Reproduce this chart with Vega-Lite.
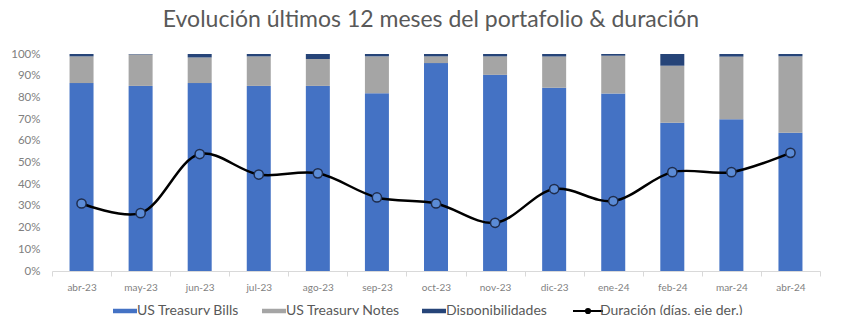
{
  "$schema": "https://vega.github.io/schema/vega-lite/v6.json",
  "width": 768,
  "height": 217,
  "padding": {"left": 10, "top": 9, "right": 0, "bottom": 0},
  "background": "white",
  "config": {"font": "Lato", "view": {"stroke": null}},
  "title": {
    "text": "Evolución últimos 12 meses del portafolio & duración",
    "fontSize": 23,
    "font": "Lato",
    "fontWeight": "normal",
    "color": "#595959",
    "anchor": "middle",
    "dx": -5,
    "offset": 16
  },
  "datasets": {
    "cartera": [
      {"mes": "abr-23", "serie": "US Treasury Bills", "pct": 86.6},
      {"mes": "abr-23", "serie": "US Treasury Notes", "pct": 12.3},
      {"mes": "abr-23", "serie": "Disponibilidades", "pct": 1.1},
      {"mes": "may-23", "serie": "US Treasury Bills", "pct": 85.3},
      {"mes": "may-23", "serie": "US Treasury Notes", "pct": 14.5},
      {"mes": "may-23", "serie": "Disponibilidades", "pct": 0.2},
      {"mes": "jun-23", "serie": "US Treasury Bills", "pct": 86.6},
      {"mes": "jun-23", "serie": "US Treasury Notes", "pct": 11.8},
      {"mes": "jun-23", "serie": "Disponibilidades", "pct": 1.6},
      {"mes": "jul-23", "serie": "US Treasury Bills", "pct": 85.3},
      {"mes": "jul-23", "serie": "US Treasury Notes", "pct": 13.6},
      {"mes": "jul-23", "serie": "Disponibilidades", "pct": 1.1},
      {"mes": "ago-23", "serie": "US Treasury Bills", "pct": 85.3},
      {"mes": "ago-23", "serie": "US Treasury Notes", "pct": 12.4},
      {"mes": "ago-23", "serie": "Disponibilidades", "pct": 2.3},
      {"mes": "sep-23", "serie": "US Treasury Bills", "pct": 81.9},
      {"mes": "sep-23", "serie": "US Treasury Notes", "pct": 17.0},
      {"mes": "sep-23", "serie": "Disponibilidades", "pct": 1.1},
      {"mes": "oct-23", "serie": "US Treasury Bills", "pct": 95.8},
      {"mes": "oct-23", "serie": "US Treasury Notes", "pct": 3.1},
      {"mes": "oct-23", "serie": "Disponibilidades", "pct": 1.1},
      {"mes": "nov-23", "serie": "US Treasury Bills", "pct": 90.4},
      {"mes": "nov-23", "serie": "US Treasury Notes", "pct": 8.5},
      {"mes": "nov-23", "serie": "Disponibilidades", "pct": 1.1},
      {"mes": "dic-23", "serie": "US Treasury Bills", "pct": 84.5},
      {"mes": "dic-23", "serie": "US Treasury Notes", "pct": 14.4},
      {"mes": "dic-23", "serie": "Disponibilidades", "pct": 1.1},
      {"mes": "ene-24", "serie": "US Treasury Bills", "pct": 81.8},
      {"mes": "ene-24", "serie": "US Treasury Notes", "pct": 17.4},
      {"mes": "ene-24", "serie": "Disponibilidades", "pct": 0.8},
      {"mes": "feb-24", "serie": "US Treasury Bills", "pct": 68.3},
      {"mes": "feb-24", "serie": "US Treasury Notes", "pct": 26.3},
      {"mes": "feb-24", "serie": "Disponibilidades", "pct": 5.4},
      {"mes": "mar-24", "serie": "US Treasury Bills", "pct": 69.9},
      {"mes": "mar-24", "serie": "US Treasury Notes", "pct": 28.9},
      {"mes": "mar-24", "serie": "Disponibilidades", "pct": 1.2},
      {"mes": "abr-24", "serie": "US Treasury Bills", "pct": 63.7},
      {"mes": "abr-24", "serie": "US Treasury Notes", "pct": 35.2},
      {"mes": "abr-24", "serie": "Disponibilidades", "pct": 1.1}
    ],
    "duracion": [
      {"mes": "abr-23", "dias": 56},
      {"mes": "may-23", "dias": 48},
      {"mes": "jun-23", "dias": 97},
      {"mes": "jul-23", "dias": 80},
      {"mes": "ago-23", "dias": 81},
      {"mes": "sep-23", "dias": 61},
      {"mes": "oct-23", "dias": 56},
      {"mes": "nov-23", "dias": 40},
      {"mes": "dic-23", "dias": 68},
      {"mes": "ene-24", "dias": 58},
      {"mes": "feb-24", "dias": 82},
      {"mes": "mar-24", "dias": 82},
      {"mes": "abr-24", "dias": 98}
    ]
  },
  "encoding": {
    "x": {
      "field": "mes",
      "type": "ordinal",
      "sort": ["abr-23", "may-23", "jun-23", "jul-23", "ago-23", "sep-23", "oct-23", "nov-23", "dic-23", "ene-24", "feb-24", "mar-24", "abr-24"],
      "scale": {"paddingInner": 0, "paddingOuter": 0},
      "axis": {
        "title": null,
        "labelAngle": 0,
        "labelFontSize": 10,
        "labelColor": "#7f7f7f",
        "labelPadding": 6,
        "domainColor": "#d9d9d9",
        "tickColor": "#d9d9d9",
        "tickBand": "extent",
        "tickSize": 5
      }
    }
  },
  "layer": [
    {
      "data": {"name": "cartera"},
      "transform": [
        {"calculate": "indexof(['US Treasury Bills', 'US Treasury Notes', 'Disponibilidades'], datum.serie)", "as": "orden"}
      ],
      "mark": {"type": "bar", "width": 24},
      "encoding": {
        "y": {
          "field": "pct",
          "type": "quantitative",
          "stack": "zero",
          "scale": {"domain": [0, 100], "nice": false},
          "axis": {
            "title": null,
            "values": [0, 10, 20, 30, 40, 50, 60, 70, 80, 90, 100],
            "labelExpr": "datum.value + '%'",
            "labelFontSize": 11.5,
            "labelColor": "#808080",
            "labelPadding": 12,
            "ticks": false,
            "domain": false,
            "grid": false
          }
        },
        "order": {"field": "orden", "type": "quantitative", "sort": "ascending"},
        "color": {
          "field": "serie",
          "type": "nominal",
          "scale": {
            "domain": ["US Treasury Bills", "US Treasury Notes", "Disponibilidades", "Duración (días, eje der.)"],
            "range": ["#4472C4", "#A5A5A5", "#264478", "#000000"]
          },
          "legend": {
            "orient": "none",
            "legendX": 66,
            "legendY": 250,
            "direction": "horizontal",
            "title": null,
            "labelFontSize": 14,
            "labelColor": "#595959",
            "labelOffset": 5,
            "columnPadding": 22,
            "symbolType": "M-0.8,-0.15H0.8V0.15H-0.8Z",
            "symbolSize": 900,
            "symbolStrokeWidth": 0,
            "encode": {
              "symbols": {
                "update": {
                  "shape": {"signal": "datum.value === 'Duración (días, eje der.)' ? 'M-1,0H-0.14M0.14,0H1M-0.14,0A0.14,0.14,0,1,0,0.14,0A0.14,0.14,0,1,0,-0.14,0' : 'M-0.8,-0.15H0.8V0.15H-0.8Z'"},
                  "fill": {"signal": "datum.value === 'Duración (días, eje der.)' ? '#5B8BD6' : scale('color', datum.value)"},
                  "stroke": {"signal": "datum.value === 'Duración (días, eje der.)' ? '#111111' : 'transparent'"},
                  "strokeWidth": {"signal": "datum.value === 'Duración (días, eje der.)' ? 2 : 0"}
                }
              }
            }
          }
        }
      }
    },
    {
      "data": {"name": "duracion"},
      "layer": [
        {
          "mark": {"type": "line", "interpolate": "catmull-rom", "strokeWidth": 2.5},
          "encoding": {
            "y": {
              "field": "dias",
              "type": "quantitative",
              "scale": {"domain": [0, 180], "nice": false},
              "axis": {
                "orient": "right",
                "title": null,
                "values": [0, 20, 40, 60, 80, 100, 120, 140, 160, 180],
                "labelFontSize": 11.5,
                "labelColor": "#33B5D8",
                "labelPadding": 12,
                "ticks": false,
                "domain": false,
                "grid": false
              }
            },
            "color": {"datum": "Duración (días, eje der.)"}
          }
        },
        {
          "mark": {"type": "point", "filled": true, "size": 85, "fill": "#5B8BD6", "stroke": "#1F2D4D", "strokeWidth": 1.5, "opacity": 1},
          "encoding": {
            "y": {"field": "dias", "type": "quantitative", "axis": null}
          }
        }
      ]
    }
  ],
  "resolve": {"scale": {"y": "independent"}}
}
